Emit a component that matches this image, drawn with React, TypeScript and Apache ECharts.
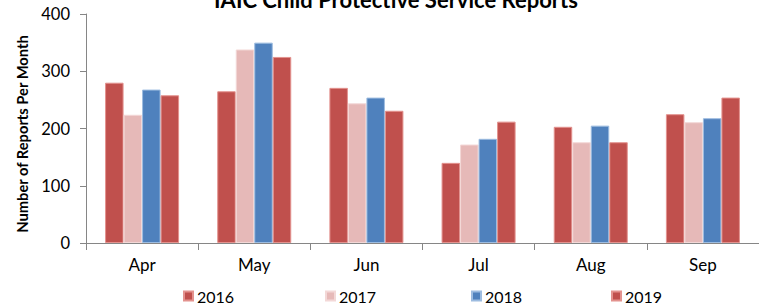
import React, { useEffect, useRef } from "react";
import * as echarts from "echarts";

const categories = ["Apr", "May", "Jun", "Jul", "Aug", "Sep"];
const seriesNames = ["2016", "2017", "2018", "2019"];
const values2016 = [280, 265, 271, 140, 203, 225];
const values2017 = [224, 338, 244, 172, 176, 211];
const values2018 = [268, 350, 254, 182, 205, 218];
const values2019 = [258, 325, 231, 212, 176, 254];
const yTicks = [0, 100, 200, 300, 400];

const colors = ["#C0504D", "#E6B9B8", "#4F81BD", "#C0504D"];
const borders = ["#E3928E", "#F3D8D7", "#9DBCE0", "#E3928E"];
const FONT = "Lato, 'Open Sans', sans-serif";

export default function App() {
  const ref = useRef<HTMLDivElement>(null);
  useEffect(() => {
    document.body.style.margin = "0";
    if (!ref.current) return;
    const chart = echarts.init(ref.current, null, { renderer: "svg" });
    const data = [values2016, values2017, values2018, values2019];
    const legendLeft = [183, 325, 471, 611];
    chart.setOption({
      animation: false,
      textStyle: { fontFamily: FONT },
      grid: { left: 86, top: 14, width: 676, height: 229, containLabel: false },
      legend: seriesNames.map((n, i) => ({
        data: [n],
        left: legendLeft[i],
        top: 288,
        padding: 0,
        icon: "rect",
        itemWidth: 9,
        itemHeight: 9,
        itemGap: 5,
        selectedMode: false,
        textStyle: { fontSize: 16, color: "#000", fontFamily: FONT, padding: [0, 0, 0, -1] },
      })),
      xAxis: {
        type: "category",
        data: categories,
        axisLine: { show: true, lineStyle: { color: "#868686", width: 1 } },
        axisTick: { show: true, length: 7, lineStyle: { color: "#868686" } },
        axisLabel: { fontSize: 17, color: "#000", margin: 13, fontFamily: FONT },
        splitLine: { show: false },
      },
      yAxis: {
        type: "value",
        min: yTicks[0],
        max: yTicks[yTicks.length - 1],
        interval: 100,
        axisLine: { show: true, lineStyle: { color: "#868686", width: 1 } },
        axisTick: { show: true, length: 6, lineStyle: { color: "#868686" } },
        axisLabel: { fontSize: 16.5, color: "#000", margin: 16, fontFamily: FONT },
        splitLine: { show: false },
      },
      graphic: [
        {
          type: "text",
          x: 396,
          y: 10,
          style: {
            text: "IAIC Child Protective Service Reports",
            fontSize: 22,
            fontWeight: "bold",
            fontFamily: FONT,
            fill: "#000",
            align: "center",
            verticalAlign: "bottom",
          },
        },
        {
          type: "text",
          x: 22,
          y: 134,
          rotation: Math.PI / 2,
          style: {
            text: "Number of Reports Per Month",
            fontSize: 14.7,
            fontWeight: "bold",
            fontFamily: FONT,
            fill: "#000",
            align: "center",
            verticalAlign: "middle",
          },
        },
      ],
      series: seriesNames.map((n, i) => ({
        name: n,
        type: "bar",
        data: data[i],
        barGap: "0%",
        barCategoryGap: "34%",
        itemStyle: { color: colors[i], borderColor: borders[i], borderWidth: 1 },
      })),
    });
    return () => chart.dispose();
  }, []);
  return <div ref={ref} style={{ width: 759, height: 307 }} />;
}
